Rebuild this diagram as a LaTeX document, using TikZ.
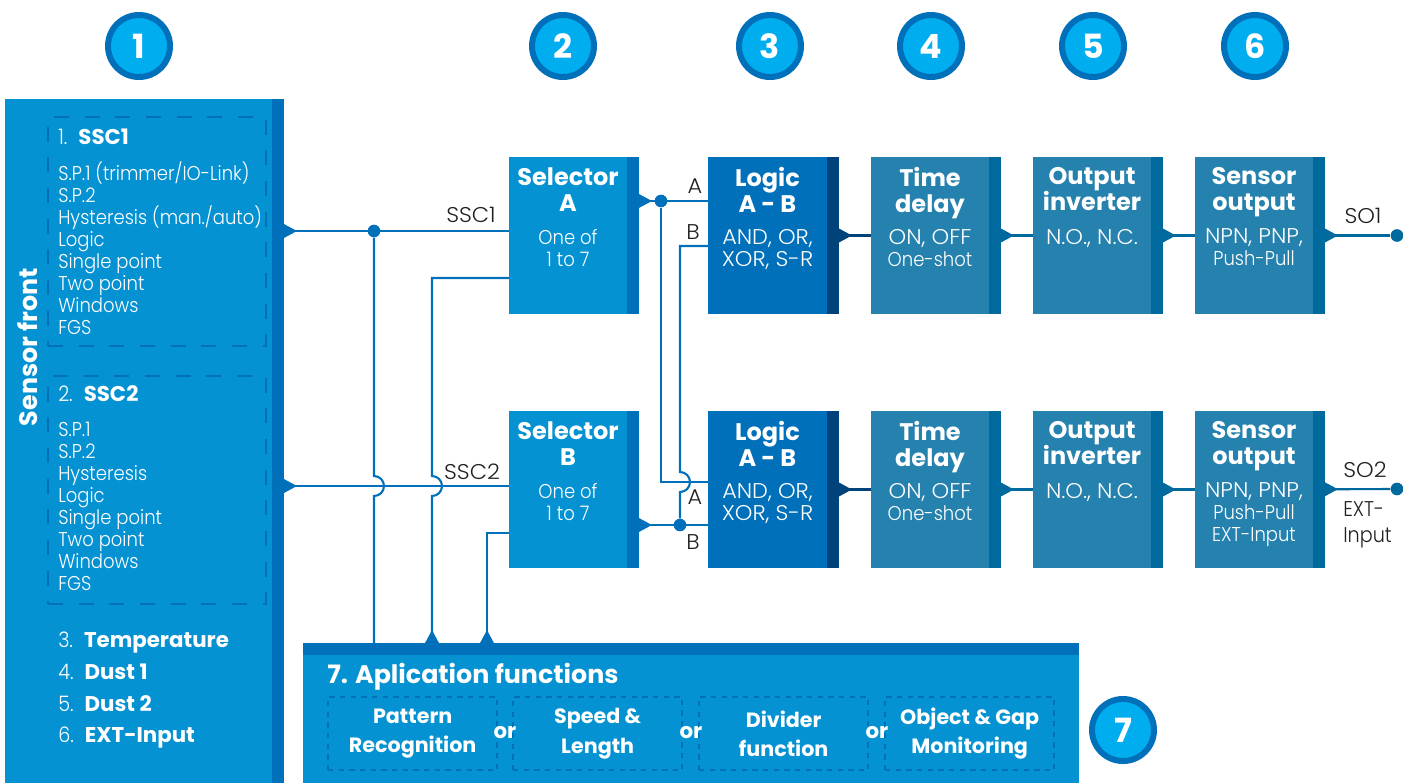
\documentclass[tikz,border=0pt]{standalone}
\usepackage{fontspec}
\setmainfont{Poppins}[UprightFont={* Light},BoldFont={* Bold},UprightFeatures={FakeStretch=0.9},BoldFeatures={FakeStretch=1.0}]
\newfontfamily\capsface{Poppins Light}[FakeStretch=1.05]
\usetikzlibrary{arrows.meta,positioning}

\definecolor{panelblue}{HTML}{0592D2}
\definecolor{stripeblue}{HTML}{0070BA}
\definecolor{logicdark}{HTML}{00427A}
\definecolor{tealblue}{HTML}{2581AE}
\definecolor{tealdark}{HTML}{006A9E}
\definecolor{badgeblue}{HTML}{00AEEF}
\definecolor{inkblack}{HTML}{231F20}

\newcommand{\capsline}[1]{{\fontsize{16}{16.5}\capsface #1}}

\tikzset{
  stripe/.style={path picture={\fill[#1] ([xshift=-9pt]path picture bounding box.north east)
      rectangle (path picture bounding box.south east);}},
  blockbox/.style={rectangle, inner sep=0pt, outer sep=0pt, minimum width=97.5pt, minimum height=117.75pt},
  selbox/.style={blockbox, fill=panelblue, stripe=stripeblue},
  logicbox/.style={blockbox, fill=stripeblue, stripe=logicdark, minimum width=98.25pt},
  tealbox/.style={blockbox, fill=tealblue, stripe=tealdark},
  titletext/.style={below=7.5pt of #1.north, xshift=-4.5pt, inner sep=0pt, align=center, text=white,
      font=\fontsize{18}{19.5}\selectfont\bfseries, execute at begin node=\strut},
  subtext/.style={below=53.75pt of #1.north, xshift=-4.5pt, inner sep=0pt, align=center, text=white,
      font=\fontsize{15}{16.5}\selectfont, execute at begin node=\strut},
  badge/.style={circle, draw=stripeblue, line width=4.5pt, fill=badgeblue, minimum size=46.5pt, inner sep=0pt,
      text=white, font=\fontsize{25}{25}\selectfont\bfseries},
  dashbox/.style={rectangle, draw=stripeblue, line width=1.9pt, dash pattern=on 11.25pt off 11.75pt,
      inner sep=0pt, outer sep=0pt, anchor=north west},
  appbox/.style={rectangle, draw=stripeblue, line width=1.5pt, dash pattern=on 4pt off 4pt, inner sep=0pt,
      outer sep=0pt, anchor=north west, minimum width=127pt, minimum height=55pt, align=center, text=white,
      font=\fontsize{15.5}{22}\selectfont\bfseries},
  ortext/.style={inner sep=0pt, text=white, font=\fontsize{16}{16}\selectfont\bfseries},
  listtext/.style={inner sep=0pt, anchor=north west, align=left, text=white,
      font=\fontsize{15}{16.5}\selectfont, execute at begin node=\strut},
  itemtext/.style={inner sep=0pt, anchor=west, text=white, text height=11pt, text depth=0pt,
      font=\fontsize{16}{16.5}\selectfont},
  wirelabel/.style={inner sep=0pt, text=inkblack, font=\fontsize{16}{16.5}\capsface},
  flow/.style={draw=#1, line width=1.6pt},
  flow/.default=stripeblue,
  outtip/.style={{Triangle[reversed,length=9.75pt,width=10pt,color=#1]}-},
  outtip/.default=stripeblue,
  wiredot/.style={circle, fill=#1, minimum size=9.5pt, inner sep=0pt},
  wiredot/.default=stripeblue
}

\begin{document}
\begin{tikzpicture}[x=0.75pt,y=-0.75pt]
 \useasboundingbox (0,0) rectangle (1403,783);

 % number badges
 \node[badge] (b1) at (139,46) {1};
 \node[badge] (b2) at (563,46) {2};
 \node[badge] (b3) at (770,46) {3};
 \node[badge] (b4) at (931,46) {4};
 \node[badge] (b5) at (1093,46) {5};
 \node[badge] (b6) at (1255,46) {6};

 % sensor front
 \node[rectangle, fill=panelblue, stripe=stripeblue, inner sep=0pt, outer sep=0pt, anchor=north west,
     minimum width=209.25pt, minimum height=513pt] (front) at (5,99) {};
 \node[rotate=90, inner sep=0pt, text=white, font=\fontsize{19}{19}\selectfont\bfseries] (fronttitle) at (28,347) {Sensor front};
 \node[dashbox, minimum width=163.5pt, minimum height=171.75pt] (ssc1box) at (48,117) {};
 \node[dashbox, minimum width=163.5pt, minimum height=171pt] (ssc2box) at (48,376) {};
 \node[itemtext] (ssc1head) at (58,137) {1.\hspace{3pt} \textbf{SSC1}};
 \node[listtext] (ssc1list) at (58,161) {S.P.1 (trimmer/IO-Link)\\S.P.2\\Hysteresis (man./auto)\\Logic\\Single point\\Two point\\Windows\\FGS};
 \node[itemtext] (ssc2head) at (58,394) {2.\hspace{3pt} \textbf{SSC2}};
 \node[listtext] (ssc2list) at (58,422) {S.P.1\\S.P.2\\Hysteresis\\Logic\\Single point\\Two point\\Windows\\FGS};
 \node[itemtext] (item3) at (58,640) {3.\hspace{3pt} \textbf{Temperature}};
 \node[itemtext] (item4) at (58,672) {4.\hspace{3pt} \textbf{Dust 1}};
 \node[itemtext] (item5) at (58,704) {5.\hspace{3pt} \textbf{Dust 2}};
 \node[itemtext] (item6) at (58,735) {6.\hspace{3pt} \textbf{EXT-Input}};

 % upper row
 \node[selbox, anchor=north west] (selA) at (509,157) {};
 \node[logicbox, right=51.75pt of selA] (logicA) {};
 \node[tealbox, right=24pt of logicA] (timeA) {};
 \node[tealbox, right=24pt of timeA] (invA) {};
 \node[tealbox, right=24pt of invA] (outA) {};

 % lower row
 \node[selbox, below=72.75pt of selA] (selB) {};
 \node[logicbox, right=51.75pt of selB] (logicB) {};
 \node[tealbox, right=24pt of logicB] (timeB) {};
 \node[tealbox, right=24pt of timeB] (invB) {};
 \node[tealbox, right=24pt of invB] (outB) {};

 % block texts
 \node[titletext=selA] {Selector\\A};
 \node[subtext=selA] {One of\\1 to 7};
 \node[titletext=logicA] {Logic\\A - B};
 \node[subtext=logicA] {\capsline{AND, OR,}\\\capsline{XOR, S-R}};
 \node[titletext=timeA] {Time\\delay};
 \node[subtext=timeA] {\capsline{ON, OFF}\\One-shot};
 \node[titletext=invA] {Output\\inverter};
 \node[subtext=invA] {\capsline{N.O., N.C.}};
 \node[titletext=outA] {Sensor\\output};
 \node[subtext=outA] {\capsline{NPN, PNP,}\\Push-Pull};
 \node[titletext=selB] {Selector\\B};
 \node[subtext=selB] {One of\\1 to 7};
 \node[titletext=logicB] {Logic\\A - B};
 \node[subtext=logicB] {\capsline{AND, OR,}\\\capsline{XOR, S-R}};
 \node[titletext=timeB] {Time\\delay};
 \node[subtext=timeB] {\capsline{ON, OFF}\\One-shot};
 \node[titletext=invB] {Output\\inverter};
 \node[subtext=invB] {\capsline{N.O., N.C.}};
 \node[titletext=outB] {Sensor\\output};
 \node[subtext=outB] {\capsline{NPN, PNP,}\\Push-Pull\\EXT-Input};

 % application functions
 \node[rectangle, fill=panelblue, inner sep=0pt, outer sep=0pt, anchor=north west,
     minimum width=582pt, minimum height=105pt] (app) at (303,643) {};
 \fill[stripeblue] (app.north west) rectangle ([yshift=-9pt]app.north east);
 \node[inner sep=0pt, anchor=west, text=white, text height=12pt, text depth=0pt, font=\fontsize{19}{19}\selectfont\bfseries] (apptitle) at (327,675) {7. Aplication functions};
 \node[appbox] (pattern) at (328,697) {Pattern\\Recognition};
 \node[appbox] (speed) at (513,697) {Speed \&\\Length};
 \node[appbox] (divider) at (699,697) {Divider\\function};
 \node[appbox] (object) at (885,697) {Object \& Gap\\Monitoring};
 \node[ortext] (or1) at (505,733) {or};
 \node[ortext] (or2) at (691,733) {or};
 \node[ortext] (or3) at (877,733) {or};
 \node[badge] (b7) at (1123,730) {7};

 % inputs of the selectors
 \coordinate (ssc1out) at (284,231);
 \coordinate (ssc2out) at (284,486);
 \coordinate (selAin) at (509,231);
 \coordinate (selBin) at (509,486);
 \coordinate (selAfun) at (509,278);
 \coordinate (selBfun) at (509,533);
 \coordinate (fun1) at (432,643);
 \coordinate (fun2) at (487,643);
 \node[wiredot] (dot1) at (374,231) {};
 \draw[flow, outtip] (ssc1out) -- (selAin);
 \draw[flow, outtip] (ssc2out) -- (selBin);
 \draw[flow] (dot1) -- (374,476) arc[start angle=90, end angle=-90, radius=7.5pt] -- (dot1 |- app.north);
 \draw[flow, outtip] (fun1) -- (432,496) arc[start angle=-90, end angle=90, radius=7.5pt] -- (fun1 |- selAfun) -- (selAfun);
 \draw[flow, outtip] (fun2) -- (fun2 |- selBfun) -- (selBfun);

 % selectors to logic
 \coordinate (selAout) at (639,201);
 \coordinate (selBout) at (639,525);
 \coordinate (logicAinA) at (708,201);
 \coordinate (logicAinB) at (708,246);
 \coordinate (logicBinA) at (708,482);
 \coordinate (logicBinB) at (708,525);
 \node[wiredot] (dotA) at (661,201) {};
 \node[wiredot] (dotB) at (680,525) {};
 \draw[flow, outtip] (selAout) -- (logicAinA);
 \draw[flow, outtip] (selBout) -- (logicBinB);
 \draw[flow] (dotA) -- (dotA |- logicBinA) -- (logicBinA);
 \draw[flow] (logicAinB) -- (dotB |- logicAinB) -- (680,472) arc[start angle=90, end angle=-90, radius=7.5pt] -- (dotB);

 % outputs
 \draw[flow=logicdark, outtip=logicdark] (logicA) -- (timeA);
 \draw[flow=tealdark, outtip=tealdark] (timeA) -- (invA);
 \draw[flow=tealdark, outtip=tealdark] (invA) -- (outA);
 \draw[flow=logicdark, outtip=logicdark] (logicB) -- (timeB);
 \draw[flow=tealdark, outtip=tealdark] (timeB) -- (invB);
 \draw[flow=tealdark, outtip=tealdark] (invB) -- (outB);
 \node[wiredot=tealdark] (so1) at (1397,235.5) {};
 \node[wiredot=tealdark] (so2) at (1397,489) {};
 \draw[flow=tealdark, outtip=tealdark] (outA) -- (so1);
 \draw[flow=tealdark, outtip=tealdark] (outB) -- (so2);

 % wire labels
 \node[wirelabel] (lssc1) at (471,215) {SSC1};
 \node[wirelabel] (lssc2) at (472,472) {SSC2};
 \node[wirelabel] (lA1) at (695,186) {A};
 \node[wirelabel] (lB1) at (693,232) {B};
 \node[wirelabel] (lA2) at (695,497) {A};
 \node[wirelabel] (lB2) at (693,542) {B};
 \node[wirelabel] (lso1) at (1363,216) {SO1};
 \node[wirelabel] (lso2) at (1365,470) {SO2};
 \node[wirelabel, anchor=north west, align=left, font=\fontsize{16}{19.5}\selectfont] (lext) at (1343,501) {EXT-\\Input};
\end{tikzpicture}
\end{document}
